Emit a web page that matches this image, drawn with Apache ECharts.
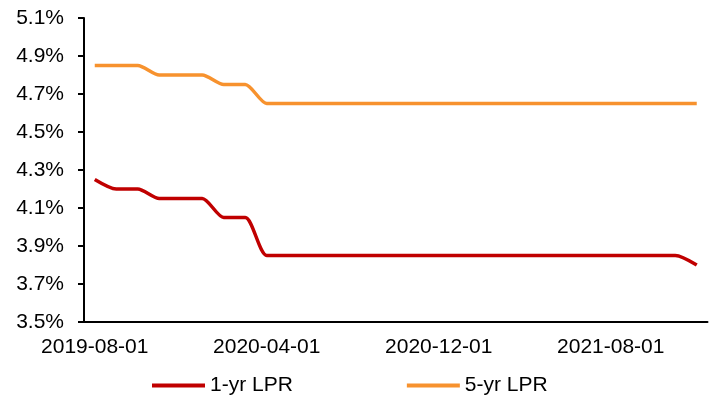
<!DOCTYPE html>
<html><head><meta charset="utf-8">
<script src="https://cdn.jsdelivr.net/npm/echarts@6/dist/echarts.min.js"></script>
<style>html,body{margin:0;padding:0;background:#fff}#c{width:715px;height:401px}</style>
</head><body><div id="c"></div>
<script>
const categories = ["2019-08-01","2019-09-01","2019-10-01","2019-11-01","2019-12-01","2020-01-01","2020-02-01","2020-03-01","2020-04-01","2020-05-01","2020-06-01","2020-07-01","2020-08-01","2020-09-01","2020-10-01","2020-11-01","2020-12-01","2021-01-01","2021-02-01","2021-03-01","2021-04-01","2021-05-01","2021-06-01","2021-07-01","2021-08-01","2021-09-01","2021-10-01","2021-11-01","2021-12-01"];
const lpr1y = [4.25,4.20,4.20,4.15,4.15,4.15,4.05,4.05,3.85,3.85,3.85,3.85,3.85,3.85,3.85,3.85,3.85,3.85,3.85,3.85,3.85,3.85,3.85,3.85,3.85,3.85,3.85,3.85,3.80];
const lpr5y = [4.85,4.85,4.85,4.80,4.80,4.80,4.75,4.75,4.65,4.65,4.65,4.65,4.65,4.65,4.65,4.65,4.65,4.65,4.65,4.65,4.65,4.65,4.65,4.65,4.65,4.65,4.65,4.65,4.65];
const seriesNames = ["1-yr LPR","5-yr LPR"];

const chart = echarts.init(document.getElementById('c'));
const font = 'Liberation Sans, Arial, sans-serif';
chart.setOption({
  animation: false,
  grid: {left: 84, right: 7.5, top: 18, bottom: 79, containLabel: false},
  legend: {
    data: seriesNames, left: 152, top: 375, itemGap: 114, itemTextGap: 5, padding: 0,
    icon: 'rect', itemWidth: 53, itemHeight: 4,
    textStyle: {fontFamily: font, fontSize: 21, color: '#000'}
  },
  xAxis: {
    type: 'category', data: categories, boundaryGap: true,
    axisLine: {lineStyle: {color: '#000', width: 2}},
    axisTick: {interval: 7, length: 6, lineStyle: {color: '#000', width: 2}},
    axisLabel: {interval: 7, margin: 15, fontFamily: font, fontSize: 21, color: '#000'}
  },
  yAxis: {
    type: 'value', min: 3.5, max: 5.1, interval: 0.2,
    splitLine: {show: false},
    axisLine: {show: true, lineStyle: {color: '#000', width: 2}},
    axisTick: {show: true, length: 6, lineStyle: {color: '#000', width: 2}},
    axisLabel: {margin: 20, fontFamily: font, fontSize: 21, color: '#000',
      formatter: v => v.toFixed(1) + '%'}
  },
  series: [
    {name: seriesNames[0], type: 'line', data: lpr1y, smooth: 0.25, showSymbol: false,
     lineStyle: {color: '#C00000', width: 3.5}, itemStyle: {color: '#C00000'}},
    {name: seriesNames[1], type: 'line', data: lpr5y, smooth: 0.25, showSymbol: false,
     lineStyle: {color: '#F7922E', width: 3.5}, itemStyle: {color: '#F7922E'}}
  ]
});
</script></body></html>
